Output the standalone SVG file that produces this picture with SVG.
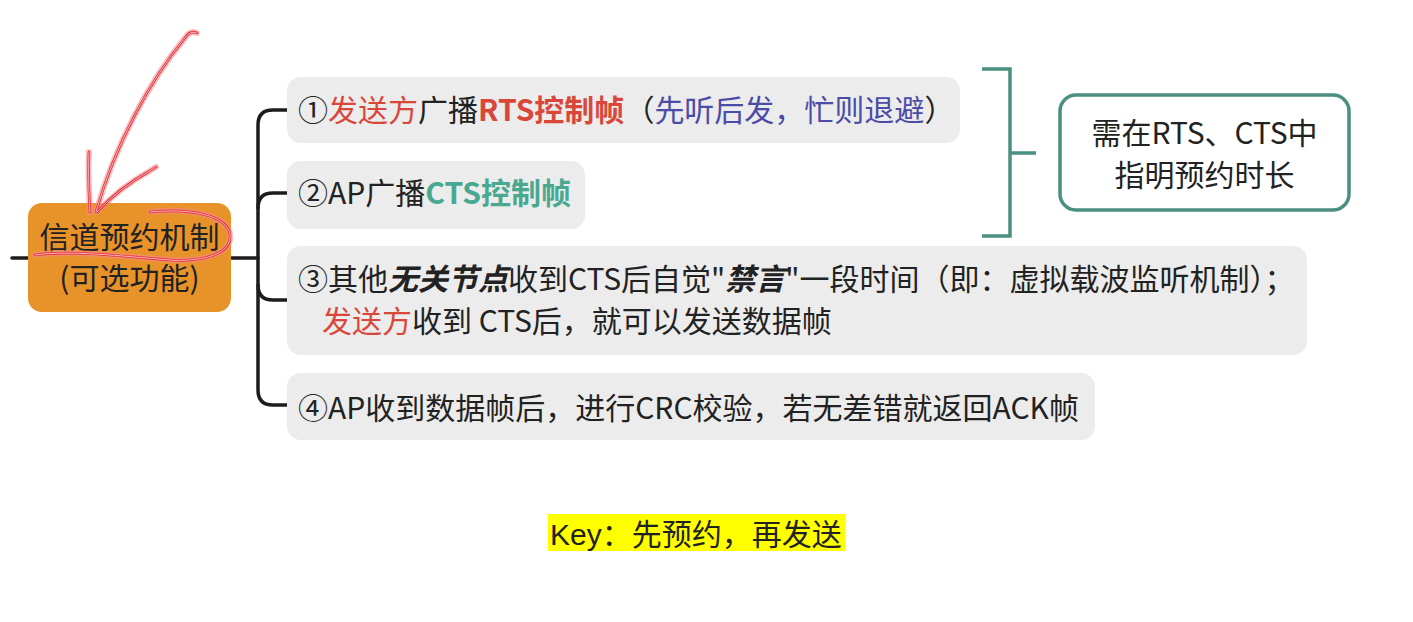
<svg xmlns="http://www.w3.org/2000/svg" width="1413" height="622" viewBox="0 0 1413 622">
<style>
text{font-family:"Noto Sans CJK SC","Noto Sans",sans-serif;font-size:30px;fill:#222}
.box{fill:#ECECEC}
.red{fill:#D9473A}
.blue{fill:#4B4BA8}
.teal{fill:#48A890}
.b{font-weight:bold}
.bi{font-weight:bold;font-style:italic}
.conn{fill:none;stroke:#1c1c1c;stroke-width:3.5;stroke-linecap:round}
.br{fill:none;stroke:#4A8F80;stroke-width:3.5}
.glow{fill:none;stroke:#F58A8A;stroke-width:6;stroke-opacity:.55;stroke-linecap:round;stroke-linejoin:round}
.ink{fill:none;stroke:#E5303C;stroke-width:2.6;stroke-linecap:round;stroke-linejoin:round}
.core{fill:none;stroke:#fff;stroke-width:.8;stroke-opacity:.8;stroke-linecap:round}
</style>
<rect width="1413" height="622" fill="#fff"/>
<g id="connectors">
<path class="conn" d="M12,258 H28"/>
<path class="conn" d="M231,258 H258"/>
<path class="conn" d="M287,110 H273 Q258,110 258,125 V390 Q258,405 273,405 H287"/>
<path class="conn" d="M287,193 H273 Q258,193 258,208"/>
<path class="conn" d="M287,300 H273 Q258,300 258,285"/>
<path class="br" d="M982,69 H1010 V236 H982 M1010,153 H1036"/>
</g>
<g id="root">
<rect x="28" y="203" width="203" height="109" rx="14" fill="#E8922A"/>
<text x="129.5" y="248" text-anchor="middle">信道预约机制</text>
<text x="129.5" y="289" text-anchor="middle">(可选功能)</text>
</g>
<g id="n1">
<rect class="box" x="287" y="77" width="673" height="66" rx="14"/>
<text x="298" y="121">①<tspan class="red">发送方</tspan>广播<tspan class="red b">RTS控制帧</tspan>（<tspan class="blue">先听后发，忙则退避</tspan>）</text>
</g>
<g id="n2">
<rect class="box" x="287" y="161" width="298" height="68" rx="14"/>
<text x="298" y="204">②AP广播<tspan class="teal b">CTS控制帧</tspan></text>
</g>
<g id="n3">
<rect class="box" x="287" y="246" width="1020" height="109" rx="14"/>
<text x="298" y="290">③其他<tspan class="bi">无关节点</tspan>收到CTS后自觉"<tspan class="bi">禁言</tspan>"一段时间（即：虚拟载波监听机制）；</text>
<text x="322" y="332"><tspan class="red">发送方</tspan>收到 CTS后，就可以发送数据帧</text>
</g>
<g id="n4">
<rect class="box" x="287" y="373" width="808" height="67" rx="14"/>
<text x="298" y="419">④AP收到数据帧后，进行CRC校验，若无差错就返回ACK帧</text>
</g>
<g id="note">
<rect x="1060" y="95" width="289" height="115" rx="16" fill="#fff" stroke="#4A8F80" stroke-width="3.5"/>
<text x="1204.5" y="144" text-anchor="middle">需在RTS、CTS中</text>
<text x="1204.5" y="186" text-anchor="middle">指明预约时长</text>
</g>
<g id="key">
<rect x="548" y="514" width="297" height="37" fill="#FFFF00"/>
<text x="550" y="545" style="font-family:'Liberation Sans','Noto Sans CJK SC',sans-serif">Key：先预约，再发送</text>
</g>
<g id="annotation">
<path class="glow" d="M197,33 Q190,30 185,38 C150,80 115,145 96,212 M89,152 C88,175 89,195 90,212 M156,167 L148,172 C130,182 110,198 97,212 M150,212 C190,208 228,215 230,235 C232,255 200,262 170,260 C120,256 70,250 35,255"/>
<path class="ink" d="M197,33 Q190,30 185,38 C150,80 115,145 96,212 M89,152 C88,175 89,195 90,212 M156,167 L148,172 C130,182 110,198 97,212 M150,212 C190,208 228,215 230,235 C232,255 200,262 170,260 C120,256 70,250 35,255"/>
<path class="core" d="M197,33 Q190,30 185,38 C150,80 115,145 96,212 M89,152 C88,175 89,195 90,212 M156,167 L148,172 C130,182 110,198 97,212 M150,212 C190,208 228,215 230,235 C232,255 200,262 170,260 C120,256 70,250 35,255"/>
</g>
</svg>
